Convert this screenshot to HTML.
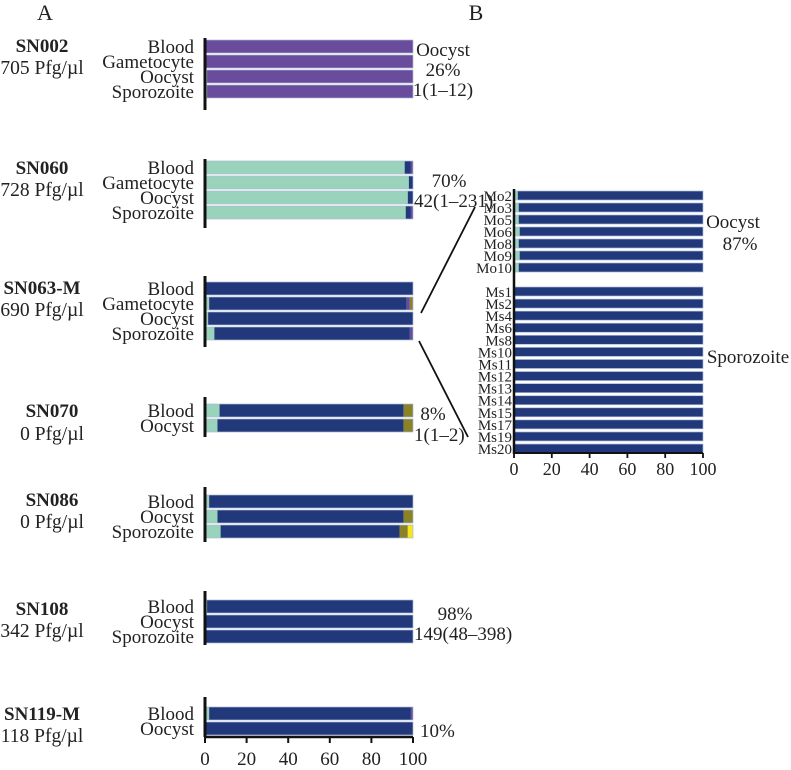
<!DOCTYPE html>
<html><head><meta charset="utf-8"><style>
body{margin:0;background:#fff}
svg{display:block;font-family:"Liberation Serif",serif}
</style></head><body>
<svg id="c" width="791" height="770" viewBox="0 0 791 770"></svg>
<script>
const NS="http://www.w3.org/2000/svg";
const svg=document.getElementById('c');
const colors={teal:"#99d3bb",navy:"#21397a",purple:"#6a4c9c",olive:"#8a8226",yellow:"#f5e61a"};
const order=["teal","navy","purple","olive","yellow"];
// Panel A data
const samples=["SN002","SN060","SN063-M","SN070","SN086","SN108","SN119-M"];
const densities=["705 Pfg/µl","728 Pfg/µl","690 Pfg/µl","0 Pfg/µl","0 Pfg/µl","342 Pfg/µl","118 Pfg/µl"];
const stages=[["Blood","Gametocyte","Oocyst","Sporozoite"],["Blood","Gametocyte","Oocyst","Sporozoite"],["Blood","Gametocyte","Oocyst","Sporozoite"],["Blood","Oocyst"],["Blood","Oocyst","Sporozoite"],["Blood","Oocyst","Sporozoite"],["Blood","Oocyst"]];
const tealVals=[[0,0,1,1],[96,98,97.5,96.5],[0,2,1.5,4.5],[7,6],[2,6,7.5],[1,0,0],[2,0]];
const navyVals=[[0,0,0,0],[3,2,2.5,2.5],[100,95,98.5,94],[88.5,89.5],[98,89.5,86],[99,100,100],[97,100]];
const purpleVals=[[100,100,99,99],[1,0,0,1],[0,1.5,0,1.5],[0,0],[0,0,0],[0,0,0],[1,0]];
const oliveVals=[[0,0,0,0],[0,0,0,0],[0,1.5,0,0],[4.5,4.5],[0,4.5,4],[0,0,0],[0,0]];
const yellowVals=[[0,0,0,0],[0,0,0,0],[0,0,0,0],[0,0],[0,0,2.5],[0,0,0],[0,0]];
const xTicks=[0,20,40,60,80,100];
// Panel B data
const bLabels=["Mo2","Mo3","Mo5","Mo6","Mo8","Mo9","Mo10","Ms1","Ms2","Ms4","Ms6","Ms8","Ms10","Ms11","Ms12","Ms13","Ms14","Ms15","Ms17","Ms19","Ms20"];
const bTeal=[2,2.5,2.5,3,2.5,3,2.5,0,0,0,0,0,0,0,0,0,0,0,0,0,0];
const bNavy=[98,97.5,97.5,97,97.5,97,97.5,100,100,100,100,100,100,100,100,100,100,100,100,100,100];

// layout
const groupTop=[40,161,282,404,495,600,707];
const axTop=[38,159,276,397,487,591,697];
const axBot=[110,228,347,437,542,645,737];
const nameY=[52,174,294,417,506,615,720];
const densY=[74,196,316,440,528,637,742];
const pitch=15,bh=13;
const xA=v=>205+v*2.08;
const xB=v=>514+v*1.89;

function el(tag,attrs,parent){const e=document.createElementNS(NS,tag);for(const k in attrs)e.setAttribute(k,attrs[k]);(parent||svg).appendChild(e);return e;}
function txt(s,x,y,o,parent){const t=el('text',Object.assign({x:x,y:y,'font-size':19,fill:'#222'},o||{}),parent);t.textContent=s;return t;}

let t;
t=txt("A",45,20,{'text-anchor':'middle','font-size':22});

t=txt("B",476,20,{'text-anchor':'middle','font-size':22});


const valsBy={teal:tealVals,navy:navyVals,purple:purpleVals,olive:oliveVals,yellow:yellowVals};
samples.forEach((s,g)=>{
  const grp=el('g',{});
  
  
  const cx=(g>=3&&g<=4)?52:42;
  const nm=txt(s,cx,nameY[g],{'text-anchor':'middle','font-weight':'bold','font-size':19},grp);
  
  const d=txt(densities[g],cx,densY[g],{'text-anchor':'middle','font-size':19.5},grp);
  
  stages[g].forEach((st,i)=>{
    const y=groupTop[g]+i*pitch;
    const lb=txt(st,194,y+bh,{'text-anchor':'end'},grp);
    
    let acc=0;
    order.forEach(c=>{
      const v=valsBy[c][g][i];if(!v)return;
      const r=el('rect',{x:xA(acc),y:y,width:xA(acc+v)-xA(acc),height:bh,fill:colors[c]},grp);
      
      acc+=v;
    });
    el('rect',{x:xA(0),y:y,width:xA(100)-xA(0),height:bh,fill:'none',stroke:'#aab8d8','stroke-width':0.7},grp);
  });
  const ax=el('line',{x1:205,x2:205,y1:axTop[g],y2:axBot[g],stroke:'#111','stroke-width':3},grp);
  
});
// x axis A
const xa=el('line',{x1:204,x2:xA(100),y1:737,y2:737,stroke:'#111','stroke-width':2.5});

xTicks.forEach(v=>{
  el('line',{x1:xA(v),x2:xA(v),y1:737,y2:743,stroke:'#111','stroke-width':2});
  const tl=txt(String(v),xA(v),765,{'text-anchor':'middle','font-size':19});
  
});
// annotations A
const ann=[["Oocyst",443,56],["26%",443,76],["1(1–12)",443,96],["70%",449,187],["42(1–231)",414,207,'start'],["8%",433,420],["1(1–2)",414,441,'start'],["98%",455,620],["149(48–398)",414,640,'start'],["10%",420,737,'start']];
ann.forEach(a=>{
  const e=txt(a[0],a[1],a[2],{'text-anchor':a[3]||'middle'});
  
});
// zoom lines
el('line',{x1:421,y1:313,x2:475,y2:207,stroke:'#111','stroke-width':1.8});
el('line',{x1:419,y1:341,x2:468,y2:437,stroke:'#111','stroke-width':1.8});

// Panel B
const gB=el('g',{});

bLabels.forEach((lab,i)=>{
  const y=i<7?191+i*12:287+(i-7)*12.08;
  const h=9;
  const l=txt(lab,512,y+h+1,{'text-anchor':'end','font-size':15},gB);
  
  let acc=0;
  [[bTeal[i],'teal'],[bNavy[i],'navy']].forEach(p=>{
    if(!p[0])return;
    const r=el('rect',{x:xB(acc),y:y,width:xB(acc+p[0])-xB(acc),height:h,fill:colors[p[1]]},gB);
    
    acc+=p[0];
  });
  el('rect',{x:xB(0),y:y,width:xB(100)-xB(0),height:h,fill:'none',stroke:'#aab8d8','stroke-width':0.7},gB);
});
const yb=el('line',{x1:514,x2:514,y1:189,y2:454,stroke:'#111','stroke-width':2.5},gB);

const xb=el('line',{x1:513,x2:xB(100),y1:453,y2:453,stroke:'#111','stroke-width':2},gB);

xTicks.forEach(v=>{
  el('line',{x1:xB(v),x2:xB(v),y1:453,y2:458,stroke:'#111','stroke-width':1.8},gB);
  const tl=txt(String(v),xB(v),475,{'text-anchor':'middle','font-size':18},gB);
  
});
[["Oocyst",733,228],["87%",740,250],["Sporozoite",748,363]].forEach(a=>{
  const e=txt(a[0],a[1],a[2],{'text-anchor':'middle'});
  
});
</script>
</body></html>
